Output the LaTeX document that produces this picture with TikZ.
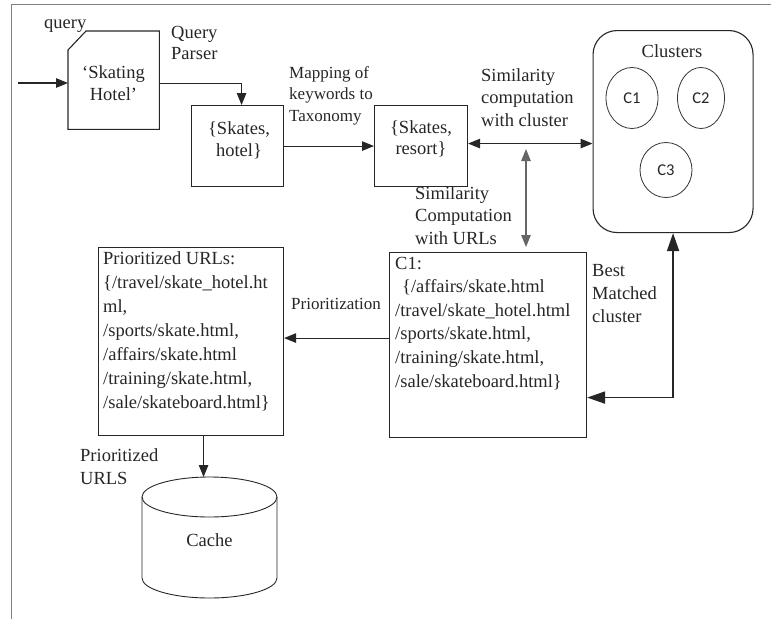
\documentclass[tikz,border=0pt]{standalone}
\usepackage{fontspec}
\setmainfont{Liberation Serif}
\newfontfamily\calfont{Carlito}
\usetikzlibrary{arrows.meta,shapes.geometric}

\begin{document}
\begin{tikzpicture}[x=1pt,y=-1pt,
  ink/.style={draw=black!85, line width=1.1pt},
  box/.style={ink, rectangle, inner sep=0pt, anchor=north west},
  hole/.style={rectangle, inner sep=0pt, anchor=north west},
  body/.style={inner sep=0pt, text=black!85, font=\fontsize{18.5}{#1}\selectfont},
  body/.default=23.5,
  small/.style={inner sep=0pt, text=black!85, font=\fontsize{17}{21.5}\selectfont},
  lbl/.style={anchor=base west, align=left},
  ctr/.style={anchor=base, align=center},
  blob/.style={draw=black!80, line width=0.8pt, ellipse, inner sep=0pt, font=\calfont\fontsize{16.5}{18}\selectfont, text=black!85},
  tip/.tip={Triangle[length=12pt,width=9.5pt]},
  bigtip/.tip={Triangle[length=18pt,width=12pt]},
  arr/.style={ink, -tip},
  darr/.style={ink, tip-tip}]

\useasboundingbox (0,0) rectangle (771,619);

% page frame
\draw[black!50, line width=1pt] (11,619) -- (11,4) -- (771,4);

% query document with a cut corner (multi-line texts sit on their last baseline)
\node[hole, minimum width=91pt, minimum height=98pt] (qdoc) at (68,31) {};
\draw[ink] (86,31) -- (qdoc.north east) -- (qdoc.south east) -- (qdoc.south west) -- (68,50) -- cycle;
\node[body=22, ctr] (qtext) at (113.5,100) {`Skating\\Hotel'};
\node[body, lbl] (qlab) at (44,28) {query};
\node[body=21, lbl] (parser) at (171,59) {Query\\Parser};

% keyword boxes
\node[box, minimum width=92pt, minimum height=81pt] (hotel) at (191,105) {};
\node[body=22, ctr] (hoteltext) at (239,156) {\{Skates,\\hotel\}};
\node[box, minimum width=93pt, minimum height=81pt] (resort) at (374,105) {};
\node[body=21, ctr] (resorttext) at (421,154) {\{Skates,\\resort\}};
\node[small, lbl] (maplab) at (289,121) {Mapping of\\keywords to\\Taxonomy};

% cluster store
\node[box, rounded corners=24pt, minimum width=160pt, minimum height=202pt] (clusters) at (592.5,30) {};
\node[body, ctr] (cltitle) at (672,57) {Clusters};
\node[blob, minimum width=52pt, minimum height=61pt] (e1) at (632,98) {C1};
\node[blob, minimum width=47pt, minimum height=61pt] (e2) at (701,98) {C2};
\node[blob, minimum width=52pt, minimum height=55pt] (e3) at (666,170) {C3};
\node[body=22.5, lbl] (simclus) at (481,126) {Similarity\\computation\\with cluster};

% C1 url list
\node[box, minimum width=197pt, minimum height=185pt] (c1box) at (389,252) {};
\node[body=23.6, lbl] (c1text) at (395,387) {C1:\\\hspace*{7pt}\{/affairs/skate.html\\/travel/skate\_hotel.html\\/sports/skate.html,\\/training/skate.html,\\/sale/skateboard.html\}};
\node[body=22.5, lbl] (simurl) at (415,244) {Similarity\\Computation\\with URLs};
\node[body=23, lbl] (bestlab) at (592,322) {Best\\Matched\\cluster};

% prioritized list
\node[box, minimum width=185pt, minimum height=188pt] (prio) at (98,247) {};
\node[body=24, lbl] (priotext) at (103,408) {Prioritized URLs:\\\{/travel/skate\_hotel.ht\\ml,\\/sports/skate.html,\\/affairs/skate.html\\/training/skate.html,\\/sale/skateboard.html\}};
\node[small, lbl] (priolab) at (291,309) {Prioritization};
\node[body=23, lbl] (urlslab) at (80,484) {Prioritized\\URLS};

% cache cylinder
\node[hole, minimum width=135pt, minimum height=121pt] (cache) at (142,477) {};
\draw[black!85, line width=0.9pt] (142,497) -- (142,578) arc[start angle=180, end angle=360, x radius=67.5pt, y radius=20pt] -- (277,497);
\draw[black!85, line width=0.9pt] (209.5,497) ellipse[x radius=67.5pt, y radius=20pt];
\node[body, ctr] (cachetext) at (209.5,546) {Cache};

% connectors
\coordinate (qin) at (18,83);
\draw[arr] (qin) -- (qin -| qdoc.west);
\draw[arr] ([yshift=-3pt]qdoc.east) -| ([xshift=4pt]hotel.north);
\draw[arr] (hotel.east) -- (resort.west);
\path ([yshift=2.5pt]resort.east) coordinate (rc);
\draw[darr] (rc) -- (rc -| clusters.west);
\coordinate (vtop) at (526,149);
\draw[darr, draw=black!60, shorten >=5pt] (vtop) -- (vtop |- c1box.north);
\path ([yshift=7pt]c1box.west) coordinate (pw);
\draw[arr] (pw) -- (pw -| prio.east);
\path ([xshift=12.5pt]prio.south) coordinate (pd);
\draw[arr] (pd) -- (pd |- cache.north);
\path ([yshift=-52.5pt]c1box.east) coordinate (bm);
\draw[ink, line width=1.8pt, bigtip-bigtip] (bm) -| (clusters.south);
\end{tikzpicture}
\end{document}
